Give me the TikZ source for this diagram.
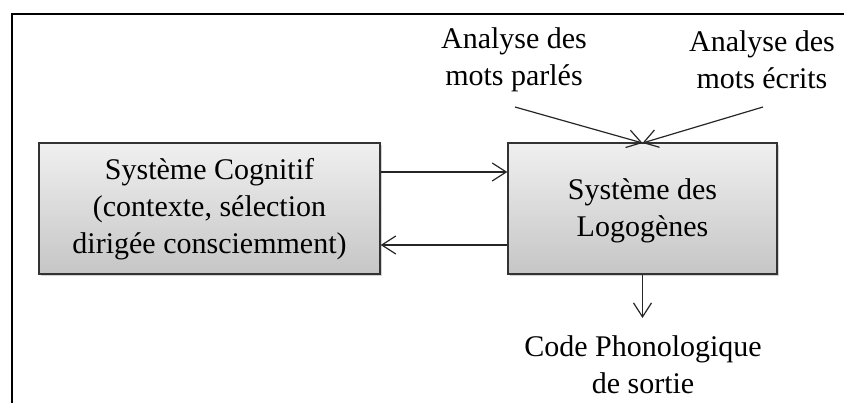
\documentclass[tikz,border=0pt]{standalone}
\usepackage{fontspec}
\setmainfont{Liberation Serif}
\usetikzlibrary{arrows.meta,shadows}
\begin{document}
\begin{tikzpicture}[x=1pt,y=-1pt,
  txt/.style={font=\fontsize{30}{37}\selectfont, align=center, inner sep=0pt},
  sysbox/.style={draw=black!80, line width=1.4pt, top color=gray!12, bottom color=gray!45,
    minimum height=131pt, drop shadow={shadow xshift=2pt, shadow yshift=-2pt, opacity=0.35}},
  conn/.style={line width=1.2pt, draw=black!85, -{Straight Barb[length=14pt,width=18pt,line width=1.2pt]}}
]
\useasboundingbox (0,0) rectangle (844,403);
\draw[line width=2pt] (844,14) -- (12,14) -- (12,403);

\node[sysbox, minimum width=341pt] (cog) at (209.5,208.5) {};
\node[txt] (cogt) at (209.5,209) {Système Cognitif\\(contexte, sélection\\dirigée consciemment)};

\node[sysbox, minimum width=269pt] (logo) at (642.5,208.5) {};
\node[txt] (logot) at (642.5,211) {Système des\\Logogènes};

\node[txt] (parle) at (514,60) {Analyse des\\mots parlés};
\node[txt] (ecrit) at (762,60) {Analyse des\\mots écrits};
\node[txt] (code) at (643,365) {Code Phonologique\\de sortie};

\coordinate (p1) at (515,107);
\coordinate (e1) at (763,107);
\coordinate (c1) at (642.5,318);
\coordinate (top) at (642.5,143);

\draw[conn] (p1) -- (top);
\draw[conn] (e1) -- (top);
\draw[conn] (logo.south) -- (c1);
\draw[conn] (cog.east |- 0,172) -- (logo.west |- 0,172);
\draw[conn] (logo.west |- 0,245) -- (cog.east |- 0,245);
\end{tikzpicture}
\end{document}
